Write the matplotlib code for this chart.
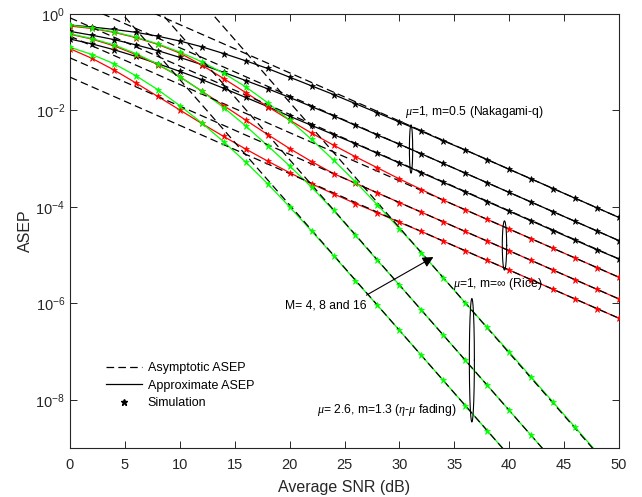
import numpy as np
import matplotlib
matplotlib.use("Agg")
import matplotlib.pyplot as plt
from matplotlib.lines import Line2D
from matplotlib.ticker import NullLocator, FixedLocator, LogFormatterMathtext

plt.rcParams['font.family'] = ['Liberation Sans', 'DejaVu Sans']
plt.rcParams['mathtext.fontset'] = 'custom'
plt.rcParams['mathtext.rm'] = 'Liberation Sans'
plt.rcParams['mathtext.it'] = 'Liberation Serif:italic'
plt.rcParams['lines.scale_dashes'] = False

# ---------------- data (log10 of ASEP) ----------------
snr_db = [0, 2, 4, 6, 8, 10, 12, 14, 16, 18, 20, 22, 24, 26, 28, 30,
          32, 34, 36, 38, 40, 42, 44, 46, 48, 50]
nan = np.nan

# mu=1, m=0.5 (Nakagami-q)  M = 16, 8, 4
nakq_M16 = [-0.23, -0.27, -0.32, -0.38, -0.46, -0.56, -0.68, -0.82, -0.97, -1.13, -1.31, -1.49, -1.67,
            -1.86, -2.05, -2.24, -2.43, -2.63, -2.82, -3.02, -3.22, -3.42, -3.62, -3.82, -4.02, -4.22]
nakq_M8 = [-0.36, -0.44, -0.53, -0.64, -0.76, -0.90, -1.05, -1.21, -1.38, -1.55, -1.73, -1.92, -2.11,
           -2.31, -2.51, -2.70, -2.90, -3.10, -3.30, -3.50, -3.70, -3.90, -4.10, -4.30, -4.50, -4.70]
nakq_M4 = [-0.52, -0.62, -0.74, -0.88, -1.03, -1.19, -1.36, -1.54, -1.73, -1.92, -2.12, -2.31, -2.50,
           -2.69, -2.89, -3.09, -3.29, -3.49, -3.69, -3.89, -4.09, -4.29, -4.49, -4.69, -4.89, -5.08]
# mu=1, m=inf (Rice)
rice_M16 = [-0.25, -0.30, -0.38, -0.49, -0.63, -0.81, -1.06, -1.34, -1.63, -1.92, -2.20, -2.47, -2.72,
            -2.96, -3.19, -3.42, -3.64, -3.86, -4.06, -4.26, -4.46, -4.66, -4.86, -5.06, -5.26, -5.46]
rice_M8 = [-0.42, -0.52, -0.66, -0.84, -1.05, -1.30, -1.60, -1.90, -2.20, -2.50, -2.79, -3.06, -3.31,
           -3.51, -3.71, -3.91, -4.11, -4.31, -4.51, -4.71, -4.91, -5.11, -5.31, -5.51, -5.71, -5.91]
rice_M4 = [-0.72, -0.92, -1.16, -1.43, -1.71, -1.99, -2.27, -2.54, -2.80, -3.05, -3.29, -3.52, -3.73,
           -3.93, -4.12, -4.32, -4.51, -4.71, -4.91, -5.11, -5.31, -5.51, -5.71, -5.91, -6.11, -6.31]
# mu=2.6, m=1.3 (eta-mu fading)
etamu_M16 = [-0.23, -0.29, -0.37, -0.48, -0.62, -0.79, -0.99, -1.23, -1.51, -1.84, -2.20, -2.60, -3.03,
             -3.48, -3.96, -4.45, -4.95, -5.47, -5.99, -6.50, -7.01, -7.53, -8.05, -8.57, -9.09, nan]
etamu_M8 = [-0.41, -0.51, -0.64, -0.82, -1.04, -1.30, -1.60, -1.94, -2.32, -2.73, -3.15, -3.59, -4.07,
            -4.59, -5.11, -5.62, -6.14, -6.66, -7.18, -7.70, -8.22, -8.74, -9.26, nan, nan, nan]
etamu_M4 = [-0.69, -0.84, -1.03, -1.28, -1.57, -1.90, -2.26, -2.65, -3.07, -3.52, -4.00, -4.50, -5.01,
            -5.53, -6.04, -6.56, -7.08, -7.60, -8.12, -8.64, -9.16, nan, nan, nan, nan, nan]

# asymptotic ASEP: log10 values at SNR = 0 dB and 50 dB
asym_snr = [0, 50]
asym_nakq = [[0.78, -4.22], [0.30, -4.70], [-0.08, -5.08]]
asym_rice = [[-0.46, -5.46], [-0.91, -5.91], [-1.31, -6.31]]
asym_etamu = [[3.37, -9.63], [2.18, -10.82], [1.24, -11.76]]

groups = [
    ([nakq_M16, nakq_M8, nakq_M4], asym_nakq, 'black'),
    ([rice_M16, rice_M8, rice_M4], asym_rice, '#ff0000'),
    ([etamu_M16, etamu_M8, etamu_M4], asym_etamu, '#00ff00'),
]

# ---------------- figure ----------------
W, H = 642, 497
fig = plt.figure(figsize=(W / 100, H / 100), dpi=100)
L, R, T, B = 70, 619, 14, 448
ax = fig.add_axes([L / W, 1 - B / H, (R - L) / W, (B - T) / H])
ax.set_yscale('log')

x = np.array(snr_db, dtype=float)
dash = (0, (5.5, 3.0))
for curves, asyms, col in groups:
    for c in curves:
        ax.plot(x, 10 ** np.array(c, dtype=float), '-', color=col, lw=0.9, zorder=2)
for curves, asyms, col in groups:
    for a in asyms:
        ax.plot(asym_snr, 10 ** np.array(a), color='black', lw=0.9, ls=dash, zorder=3)
for curves, asyms, col in groups:
    for c in curves:
        ax.plot(x, 10 ** np.array(c, dtype=float), ls='none', marker='*', ms=4.8,
                mfc=col, mec=col, mew=0.5, zorder=4)

# ---------------- annotations ----------------
def ellipse(xc, yc_log, a, b):
    t = np.linspace(0, 2 * np.pi, 200)
    ax.plot(xc + a * np.cos(t), 10 ** (yc_log + b * np.sin(t)), color='black', lw=0.8, zorder=5)

ellipse(31.06, -2.80, 0.15, 0.50)
ellipse(39.57, -4.80, 0.20, 0.51)
ellipse(36.60, -7.18, 0.23, 1.28)

fs_ann = 8.7
ax.text(30.5, 10 ** -2.03, r'$\mu$=1, m=0.5 (Nakagami-q)', fontsize=fs_ann, ha='left', va='center', zorder=6)
ax.text(34.9, 10 ** -5.60, r'$\mu$=1, m=$\infty$ (Rice)', fontsize=fs_ann, ha='left', va='center', zorder=6)
ax.text(22.5, 10 ** -8.22, r'$\mu$= 2.6, m=1.3 ($\eta$-$\mu$ fading)', fontsize=fs_ann, ha='left',
        va='center', zorder=6)
ax.text(19.6, 10 ** -6.04, 'M= 4, 8 and 16', fontsize=fs_ann, ha='left', va='center', zorder=6)
ax.annotate('', xy=(33.1, 10 ** -5.04), xytext=(27.0, 10 ** -5.83),
            arrowprops=dict(arrowstyle='-|>', color='black', lw=0.8, mutation_scale=16,
                            shrinkA=0, shrinkB=0), zorder=6)

handles = [
    Line2D([], [], color='black', lw=0.9, ls=dash),
    Line2D([], [], color='black', lw=0.9),
    Line2D([], [], color='black', ls='none', marker='*', ms=4.8),
]
labels = ['Asymptotic ASEP', 'Approximate ASEP', 'Simulation']
ax.legend(handles, labels, loc='upper left', bbox_to_anchor=(106 / W, 1 - 362 / H),
          bbox_transform=fig.transFigure, frameon=False, fontsize=9, borderpad=0,
          handlelength=2.9, handletextpad=0.45, labelspacing=0.45, borderaxespad=0)

# ---------------- axes styling ----------------
ax.set_xlim(0, 50)
ax.set_ylim(1e-9, 1e0)
ax.set_xticks(np.arange(0, 51, 5))
ax.yaxis.set_major_locator(FixedLocator([1e0, 1e-2, 1e-4, 1e-6, 1e-8]))
ax.yaxis.set_major_formatter(LogFormatterMathtext())
ax.yaxis.set_minor_locator(NullLocator())
ax.xaxis.set_minor_locator(NullLocator())
ax.tick_params(direction='in', length=5, width=0.7, colors='#262626', labelsize=10.5,
               top=True, right=True)
ax.tick_params(axis='x', pad=7)
for sp in ax.spines.values():
    sp.set_color('#262626')
    sp.set_linewidth(0.8)

ax.set_xlabel('Average SNR (dB)', fontsize=11.5, color='#262626', labelpad=6)
ax.set_ylabel('ASEP', fontsize=11.5, color='#262626', labelpad=1.5)

fig.savefig('out.png', dpi=100)
